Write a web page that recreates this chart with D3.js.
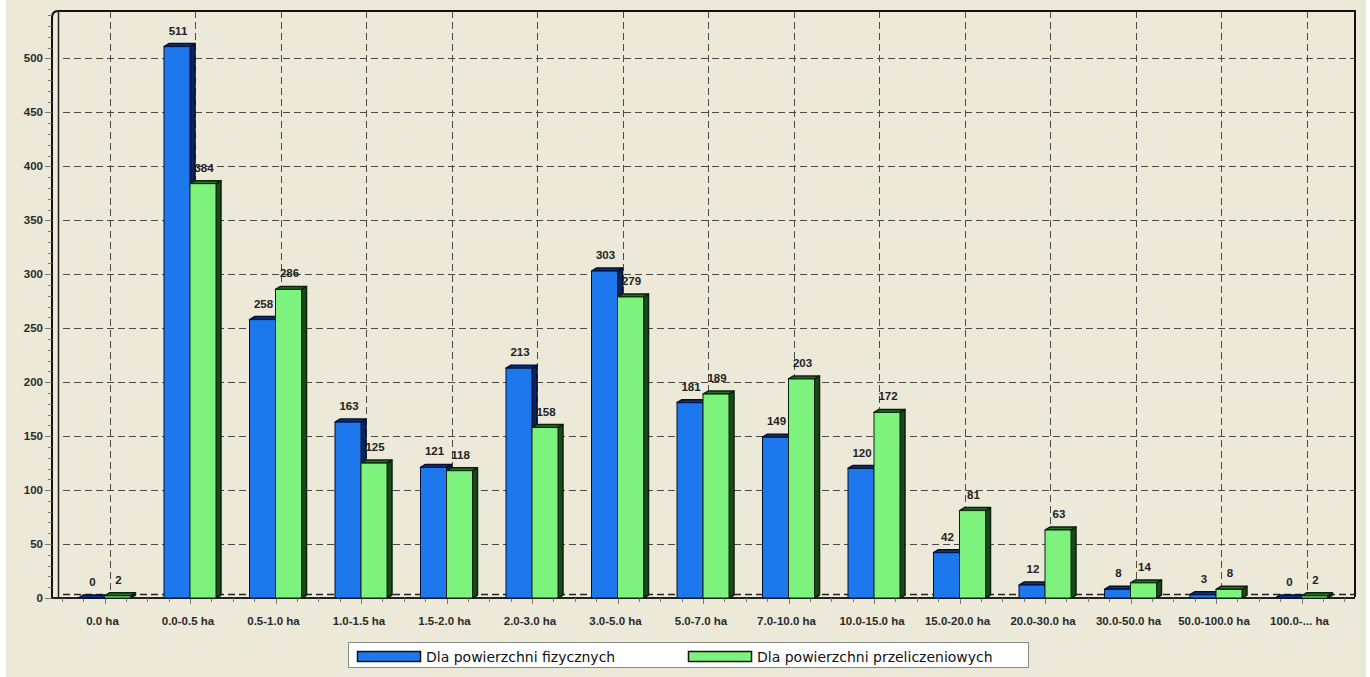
<!DOCTYPE html>
<html>
<head>
<meta charset="utf-8">
<script src="https://cdn.jsdelivr.net/npm/d3@7"></script>
<style>
  html, body { margin: 0; padding: 0; background: #fff; }
  svg { display: block; }
</style>
</head>
<body>
<div id="chart"></div>
<script>
// data
const categories = ["0.0 ha", "0.0-0.5 ha", "0.5-1.0 ha", "1.0-1.5 ha", "1.5-2.0 ha",
  "2.0-3.0 ha", "3.0-5.0 ha", "5.0-7.0 ha", "7.0-10.0 ha", "10.0-15.0 ha",
  "15.0-20.0 ha", "20.0-30.0 ha", "30.0-50.0 ha", "50.0-100.0 ha", "100.0-... ha"];
const fizyczne = [0, 511, 258, 163, 121, 213, 303, 181, 149, 120, 42, 12, 8, 3, 0];
const przeliczeniowe = [2, 384, 286, 125, 118, 158, 279, 189, 203, 172, 81, 63, 14, 8, 2];
const seriesNames = ["Dla powierzchni fizycznych", "Dla powierzchni przeliczeniowych"];
const yTicks = [0, 50, 100, 150, 200, 250, 300, 350, 400, 450, 500];

const W = 1370, H = 677;
const plot = { left: 58, right: 1355, top: 11, bottom: 598 };
const depthX = 5, depthY = 3;
const colors = [
  { front: "#1c78ec", top: "#0d3584", side: "#082560", stroke: "#040f2e" },
  { front: "#7df27d", top: "#2a6e2a", side: "#1a4a1a", stroke: "#0a220a" }
];

const svg = d3.select("#chart").append("svg")
  .attr("width", W).attr("height", H);

svg.append("rect")
  .attr("x", 6).attr("y", 0).attr("width", 1360).attr("height", H)
  .attr("fill", "#ece9d8");

const x0 = d3.scaleBand()
  .domain(categories)
  .range([61.75, 1344.25]);
const barW = 26;
const x1 = d3.scaleBand()
  .domain([0, 1])
  .range([0, barW * 2]);
const y = d3.scaleLinear()
  .domain([0, 544])
  .range([plot.bottom, plot.top]);

const grid = svg.append("g")
  .attr("stroke", "#4a4a4a")
  .attr("stroke-width", 1)
  .attr("stroke-dasharray", "7,4")
  .attr("fill", "none");

// horizontal grid on the back wall
grid.selectAll("line.h")
  .data(yTicks.filter(d => d > 0))
  .enter().append("line")
  .attr("x1", plot.left + depthX).attr("x2", plot.right)
  .attr("y1", d => Math.round(y(d)) + 0.5)
  .attr("y2", d => Math.round(y(d)) + 0.5);

grid.append("line")
  .attr("x1", plot.left + depthX).attr("x2", plot.right)
  .attr("y1", plot.bottom - 3.5).attr("y2", plot.bottom - 3.5)
  .attr("stroke", "#222").attr("stroke-width", 1.5);

// vertical grid at the category centres
grid.selectAll("line.v")
  .data(categories)
  .enter().append("line")
  .attr("x1", d => Math.round(x0(d) + x0.bandwidth() / 2 + depthX) + 0.5)
  .attr("x2", d => Math.round(x0(d) + x0.bandwidth() / 2 + depthX) + 0.5)
  .attr("y1", plot.top).attr("y2", plot.bottom - 3);

// frame
svg.append("path")
  .attr("d", `M52,${plot.bottom} L52,18 Q52,11 58,11 L${plot.right},11 L${plot.right},${plot.bottom - 1}`)
  .attr("fill", "none").attr("stroke", "#111").attr("stroke-width", 2);
svg.append("line")
  .attr("x1", 58.5).attr("x2", 58.5).attr("y1", 11).attr("y2", plot.bottom)
  .attr("stroke", "#222").attr("stroke-width", 1.5);
svg.append("line")
  .attr("x1", 52).attr("x2", plot.right)
  .attr("y1", plot.bottom).attr("y2", plot.bottom)
  .attr("stroke", "#222").attr("stroke-width", 2);

// y axis ticks and labels
const minor = d3.range(0, 541, 10);
svg.append("g").selectAll("line")
  .data(minor)
  .enter().append("line")
  .attr("x1", d => d % 50 === 0 ? 45 : 48).attr("x2", 52)
  .attr("y1", d => Math.round(y(d)) + 0.5).attr("y2", d => Math.round(y(d)) + 0.5)
  .attr("stroke", "#777").attr("stroke-width", 1);

svg.append("g").selectAll("text")
  .data(yTicks)
  .enter().append("text")
  .attr("x", 43)
  .attr("y", d => y(d) + 4)
  .attr("text-anchor", "end")
  .attr("font-family", "Liberation Sans, Arial, sans-serif")
  .attr("font-weight", "bold")
  .attr("font-size", 11.5)
  .attr("fill", "#2a2a2a")
  .text(d => d);

// x axis ticks and labels
const step = x0.step();
const xTickPos = d3.range(0, 61).map(i => 61.75 + i * step / 4);
svg.append("g").selectAll("line")
  .data(xTickPos)
  .enter().append("line")
  .attr("x1", d => Math.round(d) + 0.5).attr("x2", d => Math.round(d) + 0.5)
  .attr("y1", plot.bottom).attr("y2", (d, i) => i % 4 === 2 ? plot.bottom + 6 : plot.bottom + 4)
  .attr("stroke", "#777");

svg.append("g").selectAll("text")
  .data(categories)
  .enter().append("text")
  .attr("x", d => x0(d) + x0.bandwidth() / 2 - 2)
  .attr("y", 625)
  .attr("text-anchor", "middle")
  .attr("font-family", "Liberation Sans, Arial, sans-serif")
  .attr("font-weight", "bold")
  .attr("font-size", 11.5)
  .attr("fill", "#2a2a2a")
  .text(d => d);

// bars
const rows = categories.map((c, i) => ({ cat: c, vals: [fizyczne[i], przeliczeniowe[i]] }));
const groups = svg.append("g").selectAll("g")
  .data(rows)
  .enter().append("g")
  .attr("transform", d => `translate(${x0(d.cat) + x0.bandwidth() / 2 - barW},0)`);

groups.each(function (d) {
  const g = d3.select(this);
  d.vals.forEach((v, s) => {
    const bx = x1(s), c = colors[s];
    const yt = y(v), yb = y(0);
    const bar = g.append("g").attr("stroke", c.stroke).attr("stroke-width", 1.5)
      .attr("stroke-linejoin", "round");
    bar.append("path")
      .attr("d", `M${bx + barW},${yt} L${bx + barW + depthX},${yt - depthY} L${bx + barW + depthX},${yb - depthY} L${bx + barW},${yb} Z`)
      .attr("fill", c.side);
    bar.append("path")
      .attr("d", `M${bx},${yt} L${bx + depthX},${yt - depthY} L${bx + barW + depthX},${yt - depthY} L${bx + barW},${yt} Z`)
      .attr("fill", c.top);
    if (yb - yt > 0.5) {
      bar.append("rect")
        .attr("x", bx).attr("y", yt)
        .attr("width", barW).attr("height", yb - yt)
        .attr("fill", c.front)
        .attr("stroke-width", 1);
    }
    g.append("text")
      .attr("x", bx + barW / 2 + 1)
      .attr("y", yt - 12)
      .attr("text-anchor", "middle")
      .attr("font-family", "Liberation Sans, Arial, sans-serif")
      .attr("font-weight", "bold")
      .attr("font-size", 11.5)
      .attr("fill", "#222")
      .text(v);
  });
});

// legend
const legend = svg.append("g");
legend.append("rect")
  .attr("x", 348.5).attr("y", 642.5).attr("width", 680).attr("height", 25)
  .attr("fill", "#fff").attr("stroke", "#8a8a8a");
const legendX = [357, 688];
seriesNames.forEach((name, s) => {
  legend.append("rect")
    .attr("x", legendX[s] + 0.5).attr("y", 651.5)
    .attr("width", 63).attr("height", 10)
    .attr("fill", colors[s].front).attr("stroke", "#111").attr("stroke-width", 1.5);
  legend.append("text")
    .attr("x", legendX[s] + 69)
    .attr("y", 662)
    .attr("font-family", "DejaVu Sans, sans-serif")
    .attr("font-size", 14)
    .attr("fill", "#111")
    .text(name);
});
</script>
</body>
</html>
